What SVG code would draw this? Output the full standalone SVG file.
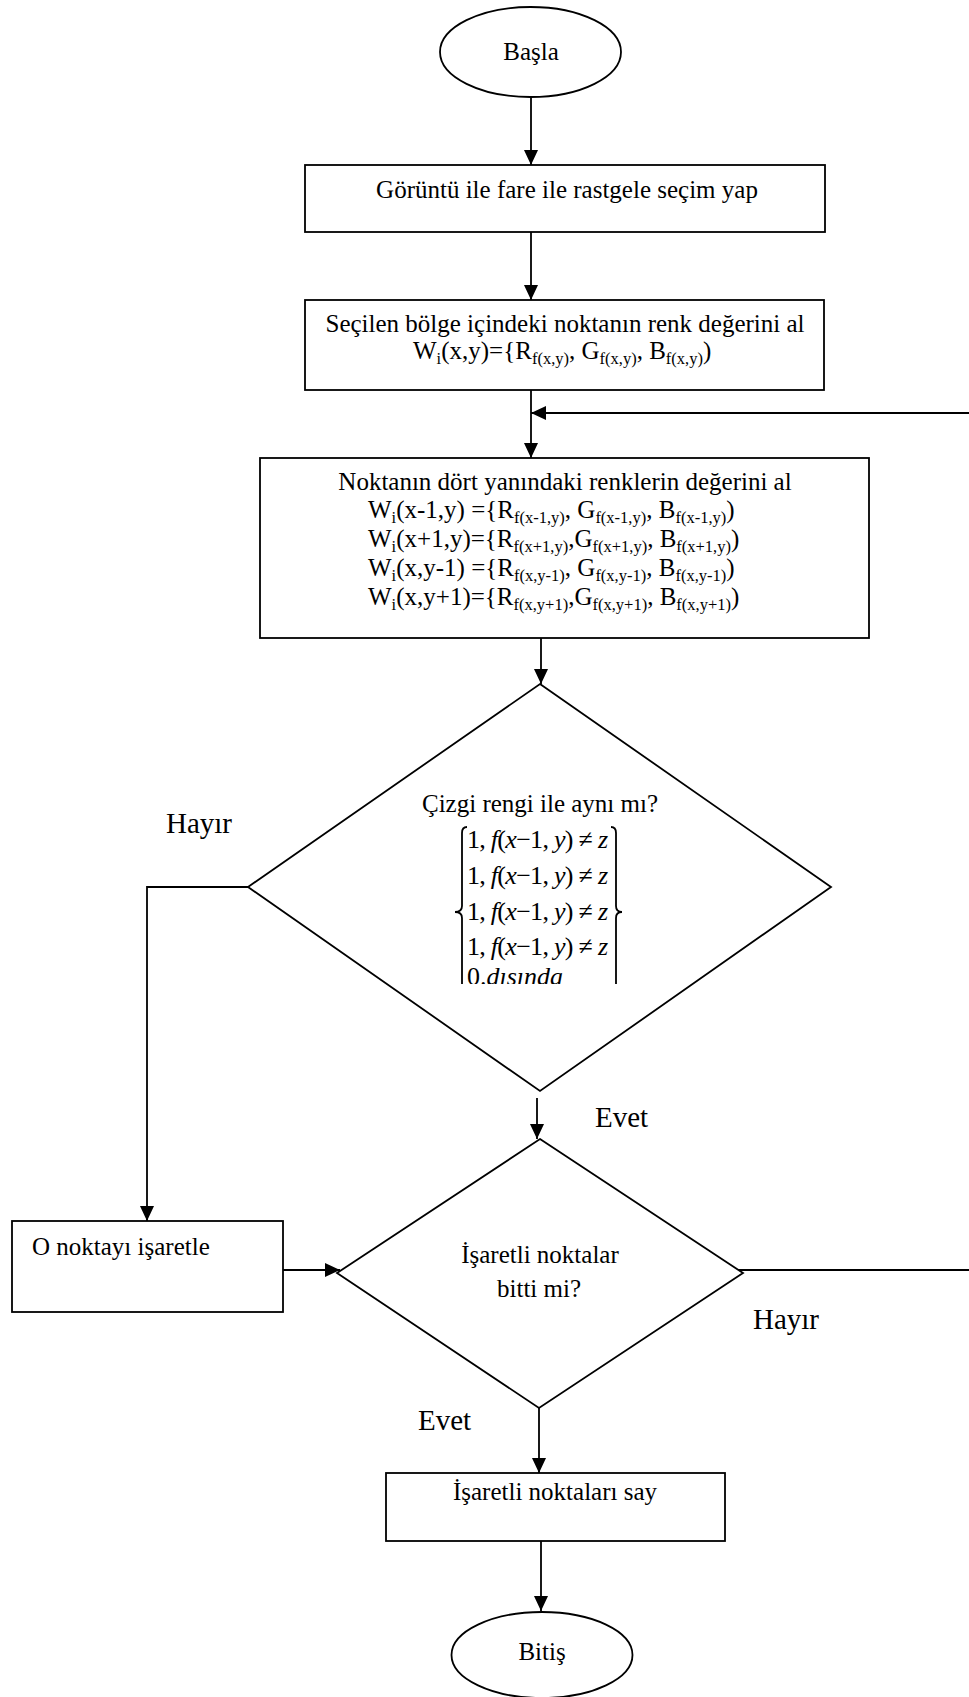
<svg xmlns="http://www.w3.org/2000/svg" width="969" height="1697" viewBox="0 0 969 1697">
<style>
.sh{fill:#fff;stroke:#000;stroke-width:1.8}
.ln{fill:none;stroke:#000;stroke-width:1.8}
.t{font-family:"Liberation Serif","Times New Roman",serif;font-size:25px;fill:#000}
.c{text-anchor:middle}
.s{font-size:16.5px}
.lb{font-family:"Liberation Serif","Times New Roman",serif;font-size:29px;fill:#000}
.m{font-family:"Liberation Serif","Times New Roman",serif;font-size:26px;fill:#000}
.i{font-style:italic}
</style>
<defs>
<marker id="ah" markerUnits="userSpaceOnUse" markerWidth="16" markerHeight="16" viewBox="0 0 16 16" refX="15" refY="8" orient="auto">
<path d="M0,1 L15,8 L0,15 Z" fill="#000"/>
</marker>
<clipPath id="mclip"><rect x="440" y="800" width="200" height="184"/></clipPath>
</defs>
<rect width="969" height="1697" fill="#fff"/>

<g id="connectors">
<line class="ln" x1="531" y1="97" x2="531" y2="165" marker-end="url(#ah)"/>
<line class="ln" x1="531" y1="232" x2="531" y2="300" marker-end="url(#ah)"/>
<line class="ln" x1="531" y1="390" x2="531" y2="458" marker-end="url(#ah)"/>
<line class="ln" x1="969" y1="413" x2="531" y2="413" marker-end="url(#ah)"/>
<line class="ln" x1="541" y1="638" x2="541" y2="684" marker-end="url(#ah)"/>
<line class="ln" x1="537" y1="1098" x2="537" y2="1139" marker-end="url(#ah)"/>
<polyline class="ln" points="261,887 147,887 147,1221" marker-end="url(#ah)"/>
<line class="ln" x1="283" y1="1270" x2="340" y2="1270" marker-end="url(#ah)"/>
<line class="ln" x1="735" y1="1270" x2="969" y2="1270"/>
<line class="ln" x1="539" y1="1408" x2="539" y2="1473" marker-end="url(#ah)"/>
<line class="ln" x1="541" y1="1541" x2="541" y2="1611" marker-end="url(#ah)"/>
</g>

<g id="start">
<ellipse class="sh" cx="530.5" cy="52" rx="90.5" ry="45"/>
<text class="t c" x="531" y="60">Başla</text>
</g>

<g id="select">
<rect class="sh" x="305" y="165" width="520" height="67"/>
<text class="t c" x="567" y="198">Görüntü ile fare ile rastgele seçim yap</text>
</g>

<g id="getcolor">
<rect class="sh" x="305" y="300" width="519" height="90"/>
<text class="t c" x="565" y="332">Seçilen bölge içindeki noktanın renk değerini al</text>
<text class="t" x="413" y="359">W<tspan class="s" dy="5">i</tspan><tspan dy="-5">(x,y)={R</tspan><tspan class="s" dy="5">f(x,y)</tspan><tspan dy="-5">, G</tspan><tspan class="s" dy="5">f(x,y)</tspan><tspan dy="-5">, B</tspan><tspan class="s" dy="5">f(x,y)</tspan><tspan dy="-5">)</tspan></text>
</g>

<g id="neighbors">
<rect class="sh" x="260" y="458" width="609" height="180"/>
<text class="t c" x="565" y="490">Noktanın dört yanındaki renklerin değerini al</text>
<text class="t" x="368" y="518">W<tspan class="s" dy="5">i</tspan><tspan dy="-5">(x-1,y) ={R</tspan><tspan class="s" dy="5">f(x-1,y)</tspan><tspan dy="-5">, G</tspan><tspan class="s" dy="5">f(x-1,y)</tspan><tspan dy="-5">, B</tspan><tspan class="s" dy="5">f(x-1,y)</tspan><tspan dy="-5">)</tspan></text>
<text class="t" x="368" y="547">W<tspan class="s" dy="5">i</tspan><tspan dy="-5">(x+1,y)={R</tspan><tspan class="s" dy="5">f(x+1,y)</tspan><tspan dy="-5">,G</tspan><tspan class="s" dy="5">f(x+1,y)</tspan><tspan dy="-5">, B</tspan><tspan class="s" dy="5">f(x+1,y)</tspan><tspan dy="-5">)</tspan></text>
<text class="t" x="368" y="576">W<tspan class="s" dy="5">i</tspan><tspan dy="-5">(x,y-1) ={R</tspan><tspan class="s" dy="5">f(x,y-1)</tspan><tspan dy="-5">, G</tspan><tspan class="s" dy="5">f(x,y-1)</tspan><tspan dy="-5">, B</tspan><tspan class="s" dy="5">f(x,y-1)</tspan><tspan dy="-5">)</tspan></text>
<text class="t" x="368" y="605">W<tspan class="s" dy="5">i</tspan><tspan dy="-5">(x,y+1)={R</tspan><tspan class="s" dy="5">f(x,y+1)</tspan><tspan dy="-5">,G</tspan><tspan class="s" dy="5">f(x,y+1)</tspan><tspan dy="-5">, B</tspan><tspan class="s" dy="5">f(x,y+1)</tspan><tspan dy="-5">)</tspan></text>
</g>

<g id="decision1">
<polygon class="sh" points="540,684 831,887 540,1091 248,887"/>
<text class="t c" x="540" y="812">Çizgi rengi ile aynı mı?</text>
<g clip-path="url(#mclip)">
<path class="ln" stroke-width="1.4" d="M467,827 Q462,827 462,833 L462,906 Q462,912 455,912 Q462,912 462,918 L462,990"/>
<path class="ln" stroke-width="1.4" d="M611,827 Q616,827 616,833 L616,906 Q616,912 622,912 Q616,912 616,918 L616,990"/>
<text class="m" x="467" y="848" textLength="141" lengthAdjust="spacing">1, <tspan class="i">f</tspan>(<tspan class="i">x</tspan>−1, <tspan class="i">y</tspan>) ≠ <tspan class="i">z</tspan></text>
<text class="m" x="467" y="884" textLength="141" lengthAdjust="spacing">1, <tspan class="i">f</tspan>(<tspan class="i">x</tspan>−1, <tspan class="i">y</tspan>) ≠ <tspan class="i">z</tspan></text>
<text class="m" x="467" y="920" textLength="141" lengthAdjust="spacing">1, <tspan class="i">f</tspan>(<tspan class="i">x</tspan>−1, <tspan class="i">y</tspan>) ≠ <tspan class="i">z</tspan></text>
<text class="m" x="467" y="955" textLength="141" lengthAdjust="spacing">1, <tspan class="i">f</tspan>(<tspan class="i">x</tspan>−1, <tspan class="i">y</tspan>) ≠ <tspan class="i">z</tspan></text>
<text class="m" x="467" y="985">0.<tspan class="i">dısında</tspan></text>
</g>
</g>

<g id="label-hayir1"><text class="lb" x="166" y="833">Hayır</text></g>
<g id="label-evet1"><text class="lb" x="595" y="1127">Evet</text></g>

<g id="mark">
<rect class="sh" x="12" y="1221" width="271" height="91"/>
<text class="t" x="32" y="1255">O noktayı işaretle</text>
</g>

<g id="decision2">
<polygon class="sh" points="540,1139 743,1273 539,1408 337,1273"/>
<text class="t c" x="540" y="1263">İşaretli noktalar</text>
<text class="t c" x="539" y="1297">bitti mi?</text>
</g>

<g id="label-hayir2"><text class="lb" x="753" y="1329">Hayır</text></g>
<g id="label-evet2"><text class="lb" x="418" y="1430">Evet</text></g>

<g id="count">
<rect class="sh" x="386" y="1473" width="339" height="68"/>
<text class="t c" x="555" y="1500">İşaretli noktaları say</text>
</g>

<g id="end">
<ellipse class="sh" cx="542" cy="1655" rx="90.5" ry="43"/>
<text class="t c" x="542" y="1660">Bitiş</text>
</g>
</svg>
